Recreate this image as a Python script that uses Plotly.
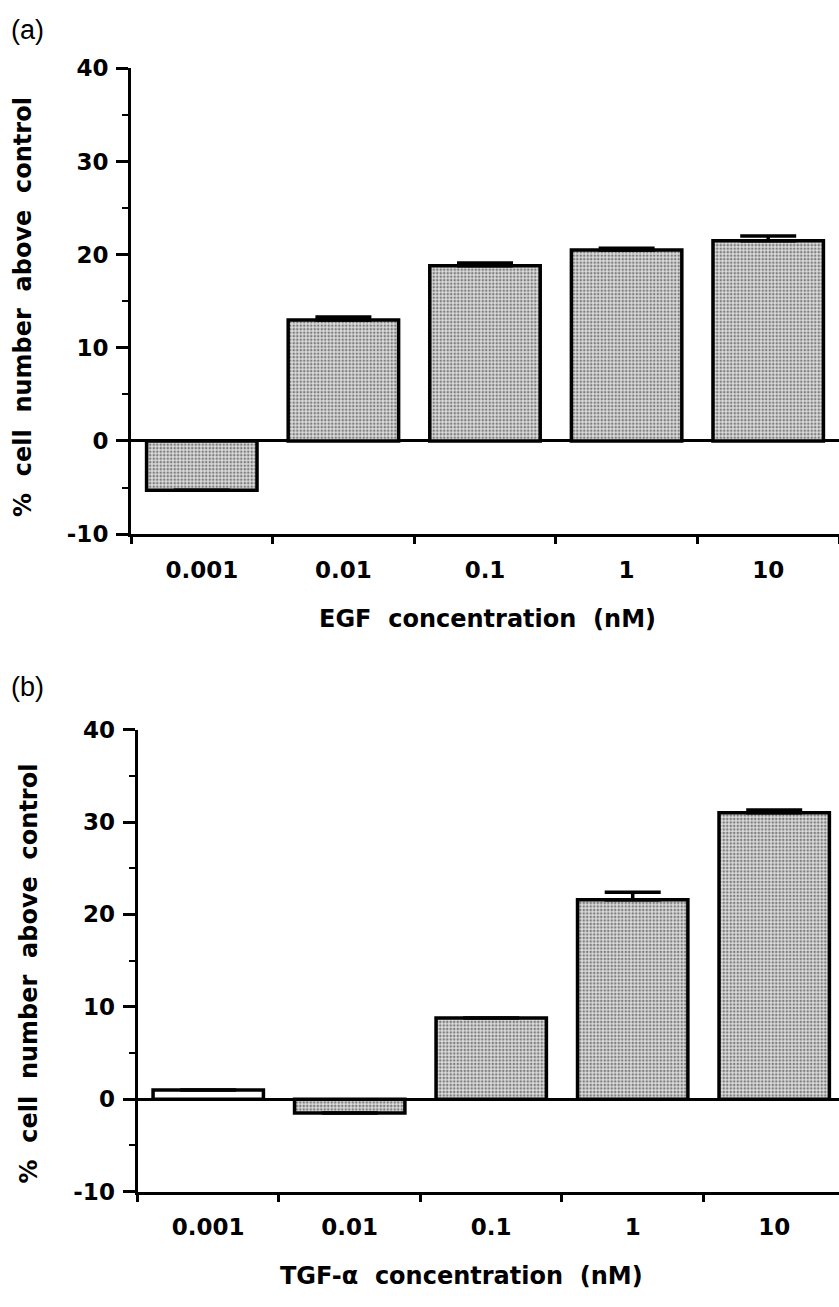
import plotly.graph_objects as go

# ---- data ----
categories = ["0.001", "0.01", "0.1", "1", "10"]
egf_values = [-5.3, 13.0, 18.8, 20.5, 21.5]
egf_errors = [0.0, 0.3, 0.3, 0.2, 0.5]
tgf_values = [1.0, -1.5, 8.8, 21.6, 31.0]
tgf_errors = [0.0, 0.0, 0.0, 0.8, 0.3]
y_tickvals = [-10, 0, 10, 20, 30, 40]
y_ticktext = ["-10", "0", "10", "20", "30", "40"]

W, H = 839, 1307
TICKFONT = dict(family="DejaVu Sans", size=23, color="black", weight="bold")
TITLEFONT = dict(family="DejaVu Sans", size=24, color="black", weight="bold")

fill_shape_a = ["."] * 5
fill_shape_b = ["", ".", ".", ".", "."]


def bar_trace(values, errors, shapes, xa, ya):
    return go.Bar(
        x=categories, y=values, xaxis=xa, yaxis=ya,
        marker=dict(
            color="white",
            pattern=dict(shape=shapes, fgcolor="#202020", bgcolor="#dedede",
                         size=3.5, solidity=0.45, fillmode="overlay"),
            line=dict(color="black", width=3.5),
        ),
        error_y=dict(type="data", array=errors, symmetric=False,
                     arrayminus=[0] * len(errors),
                     color="black", thickness=3.5, width=28),
        showlegend=False,
    )


fig = go.Figure()
fig.add_trace(bar_trace(egf_values, egf_errors, fill_shape_a, "x", "y"))
fig.add_trace(bar_trace(tgf_values, tgf_errors, fill_shape_b, "x2", "y2"))

xa_common = dict(
    type="category", showline=True, linecolor="black", linewidth=3,
    ticks="outside", tickson="boundaries", ticklen=7, tickwidth=2.5,
    tickcolor="black", tickfont=TICKFONT, showgrid=False, zeroline=False,
    ticklabelstandoff=13, fixedrange=True,
)
ya_common = dict(
    range=[-10, 40], tickvals=y_tickvals, ticktext=y_ticktext,
    showline=True, linecolor="black", linewidth=3,
    ticks="outside", ticklen=12, tickwidth=2.5, tickcolor="black",
    minor=dict(ticks="outside", dtick=5, tick0=0, ticklen=6, tickwidth=2,
               tickcolor="black", showgrid=False),
    tickfont=TICKFONT, showgrid=False,
    zeroline=True, zerolinecolor="black", zerolinewidth=2.5,
    ticklabelstandoff=3, fixedrange=True,
)

fig.update_layout(
    width=W, height=H,
    margin=dict(l=0, r=0, t=0, b=0),
    paper_bgcolor="white", plot_bgcolor="white",
    bargap=0.22,
    xaxis=dict(domain=[131 / W, 1], range=[-0.5, 4.5], anchor="y", **xa_common),
    yaxis=dict(domain=[1 - 531.7 / H, 1 - 56.5 / H], anchor="x", **ya_common),
    xaxis2=dict(domain=[137.5 / W, 1], range=[-0.5, 4.458], anchor="y2", **xa_common),
    yaxis2=dict(domain=[1 - 1202.5 / H, 1 - 731.2 / H], anchor="x2", **ya_common),
)

NB = "\u00a0"
ytitle = f"%{NB}{NB}cell{NB}{NB}number{NB}{NB}above{NB}{NB}control"
ann = [
    dict(text="(a)", x=27 / W, y=1.0, yanchor="top", font=dict(family="Liberation Sans", size=27, color="black")),
    dict(text="(b)", x=27 / W, y=1 - 688 / H, yanchor="middle", font=dict(family="Liberation Sans", size=27, color="black")),
    dict(text=f"EGF{NB}{NB}concentration{NB}{NB}(nM)", x=487 / W, y=1 - 618 / H, yanchor="middle", font=TITLEFONT),
    dict(text=f"TGF-α{NB}{NB}concentration{NB}{NB}(nM)", x=461 / W, y=1 - 1289 / H, yanchor="middle", font=TITLEFONT),
    dict(text=ytitle, x=23 / W, y=1 - 300 / H, yanchor="middle", textangle=-90, font=TITLEFONT),
    dict(text=ytitle, x=29 / W, y=1 - 980 / H, yanchor="middle", textangle=-90, font=TITLEFONT),
]
for a in ann:
    fig.add_annotation(xref="paper", yref="paper", showarrow=False,
                       xanchor="center", **a)

fig.write_html("out.html")
